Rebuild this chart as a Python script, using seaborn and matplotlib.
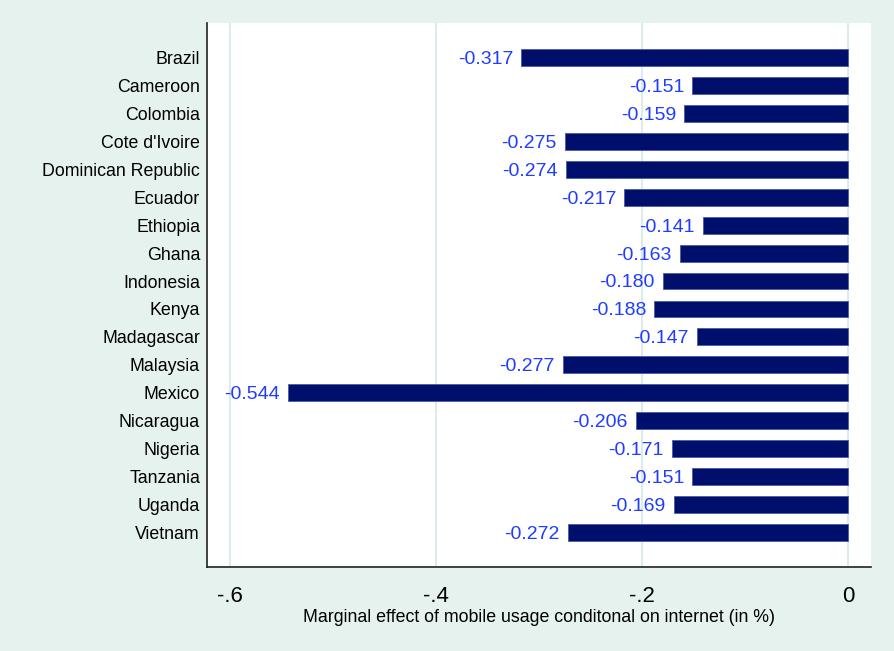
import matplotlib
matplotlib.use("Agg")
import matplotlib.pyplot as plt
import seaborn as sns
import pandas as pd

countries = ["Brazil", "Cameroon", "Colombia", "Cote d'Ivoire", "Dominican Republic",
             "Ecuador", "Ethiopia", "Ghana", "Indonesia", "Kenya", "Madagascar",
             "Malaysia", "Mexico", "Nicaragua", "Nigeria", "Tanzania", "Uganda", "Vietnam"]
effects = [-0.317, -0.151, -0.159, -0.275, -0.274, -0.217, -0.141, -0.163, -0.180,
           -0.188, -0.147, -0.277, -0.544, -0.206, -0.171, -0.151, -0.169, -0.272]
xticks = [-0.6, -0.4, -0.2, 0]
xtick_labels = ["-.6", "-.4", "-.2", "0"]

df = pd.DataFrame({"country": countries, "effect": effects})

sns.set_style("white")
plt.rcParams["font.family"] = ["Liberation Sans", "DejaVu Sans"]

bg = "#e6f2ee"
fig = plt.figure(figsize=(8.94, 6.51), dpi=100, facecolor=bg)
ax = fig.add_axes([0.2315, 0.129, 0.7428, 0.8357])
ax.set_facecolor("white")

sns.barplot(data=df, x="effect", y="country", orient="h", color="#000f6b",
            width=0.6, edgecolor="#4a5aa8", linewidth=0.6, saturation=1, ax=ax)

# value labels just left of each bar end, digits centred on the bar
for i, v in enumerate(effects):
    ax.text(v - 0.008, i + 0.23, f"{v:.3f}", ha="right", va="baseline",
            color="#1f3cff", fontsize=14)

ax.set_xlim(-0.6223, 0.0223)
ax.set_ylim(18.25, -1.25)
ax.set_xticks(xticks)
ax.set_xticklabels(xtick_labels, fontsize=16, color="black")
ax.xaxis.grid(True, color="#dcecec", linewidth=1.5)
ax.set_axisbelow(True)
ax.tick_params(axis="x", direction="out", length=8, width=1, color="#333333", pad=6)
ax.tick_params(axis="y", length=0, pad=5, labelsize=12.8, labelcolor="black")
ax.set_ylabel("")
ax.set_xlabel("Marginal effect of mobile usage conditonal on internet (in %)",
              fontsize=12.8, color="black", labelpad=1)

for s in ["top", "right"]:
    ax.spines[s].set_visible(False)
for s in ["left", "bottom"]:
    ax.spines[s].set_color("#222222")
    ax.spines[s].set_linewidth(1.2)

fig.savefig("out.png", dpi=100, facecolor=bg)
